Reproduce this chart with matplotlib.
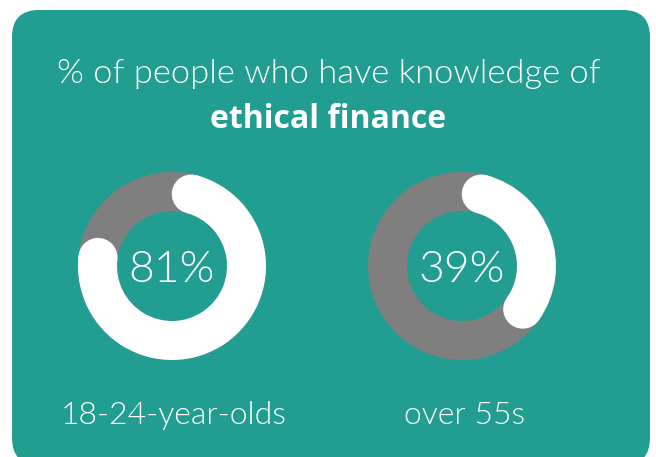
import numpy as np
import matplotlib
matplotlib.use("Agg")
import matplotlib.pyplot as plt
from matplotlib.patches import FancyBboxPatch, Wedge, Circle

# data
groups = ["18-24-year-olds", "over 55s"]
shares = [81, 39]
title_line1 = "% of people who have knowledge of"
title_line2 = "ethical finance"

TEAL = "#219d92"
GREY = "#7f7f7f"
WHITE = "#ffffff"
LIGHT = dict(family="Lato", weight=300)

W, H = 656, 457
fig = plt.figure(figsize=(W / 100, H / 100), dpi=100)
ax = fig.add_axes([0, 0, 1, 1])
ax.set_xlim(0, W)
ax.set_ylim(H, 0)
ax.axis("off")
fig.patch.set_facecolor("white")

# card background
ax.add_patch(FancyBboxPatch((12, 10), 638, 455, boxstyle="round,pad=0,rounding_size=27",
                            fc=TEAL, ec="none"))

ax.text(329, 83, title_line1, ha="center", va="baseline", color=WHITE,
        fontsize=24.8, **LIGHT)
ax.text(328, 128, title_line2, ha="center", va="baseline", color=WHITE,
        fontsize=23, family="Open Sans", weight="bold")

centers_x = [172, 462]
cy = 266
r_out, width = 94, 39
r_mid = r_out - width / 2
cap = np.degrees((width / 2) / r_mid)   # caps sit inside the arc span

for cx, pct, name in zip(centers_x, shares, groups):
    # grey track
    ax.add_patch(Wedge((cx, cy), r_out, 0, 360, width=width, fc=GREY, ec="none"))
    # white value arc, clockwise from 12 o'clock (y axis is flipped)
    a0 = -90 + cap
    a1 = -90 + pct / 100 * 360 - cap
    ax.add_patch(Wedge((cx, cy), r_out, a0, a1, width=width, fc=WHITE, ec="none"))
    for a in (a0, a1):
        t = np.radians(a)
        ax.add_patch(Circle((cx + r_mid * np.cos(t), cy + r_mid * np.sin(t)), width / 2,
                            fc=WHITE, ec="none"))
    ax.text(cx, 282, f"{pct}%", ha="center", va="baseline", color=WHITE,
            fontsize=32, **LIGHT)
    ax.text(cx + 2, 424, name, ha="center", va="baseline", color=WHITE,
            fontsize=23, **LIGHT)

fig.savefig("out.png", dpi=100)
